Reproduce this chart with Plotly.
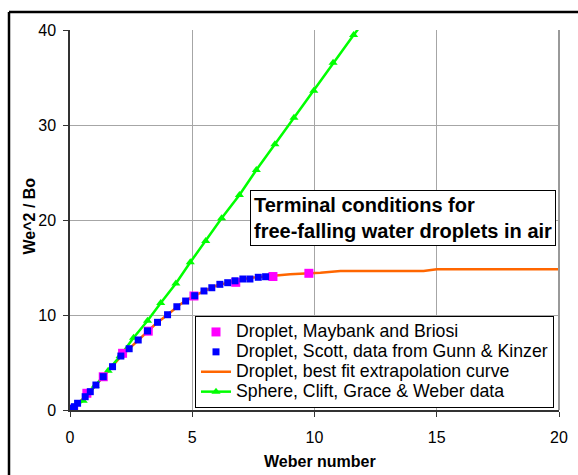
import plotly.graph_objects as go

# ---- data ----
maybank_we = [0.05, 0.15, 0.69, 1.36, 2.15, 3.2, 5.07, 6.78, 8.3, 9.77]
maybank_y = [0.03, 0.10, 1.76, 3.50, 5.97, 8.3, 12.0, 13.44, 14.05, 14.39]

scott_we = [0.02, 0.04, 0.10, 0.18, 0.31, 0.62, 0.83, 1.06, 1.36, 1.74, 2.08, 2.42, 2.79,
            3.17, 3.58, 3.99, 4.37, 4.73, 5.10, 5.48, 5.80, 6.13, 6.45, 6.75, 7.07, 7.36,
            7.70, 8.0]
scott_y = [0.03, 0.07, 0.18, 0.35, 0.71, 1.40, 1.93, 2.63, 3.51, 4.56, 5.68, 6.45, 7.37,
           8.32, 9.23, 10.03, 10.87, 11.47, 12.03, 12.53, 12.87, 13.23, 13.40, 13.60, 13.79,
           13.79, 13.97, 14.03]

fit_we = [0, 0.5, 1, 1.5, 2, 2.5, 3, 3.5, 4, 4.5, 5, 5.5, 6, 6.5, 7, 7.5, 8, 9, 10.24,
          11.06, 14.46, 15.0, 20.0]
fit_y = [0, 1.1, 2.45, 3.9, 5.4, 6.65, 7.9, 9.05, 10.05, 11.1, 11.9, 12.55, 13.1, 13.45,
         13.75, 13.95, 14.05, 14.3, 14.45, 14.63, 14.63, 14.81, 14.81]

sphere_we = [0.02, 0.54, 1.03, 1.56, 2.05, 2.60, 3.17, 3.71, 4.33, 4.92, 5.55, 6.20, 6.93,
             7.62, 8.38, 9.16, 9.97, 10.76, 11.6, 12.4]
sphere_y = [0.02, 0.98, 2.56, 4.14, 5.68, 7.6, 9.4, 11.27, 13.32, 15.55, 17.8, 20.18, 22.63,
            25.26, 27.97, 30.77, 33.6, 36.56, 39.47, 42.2]

x_ticks = [0, 5, 10, 15, 20]
y_ticks = [0, 10, 20, 30, 40]

names = ["Droplet, Maybank and Briosi", "Droplet, Scott, data from Gunn & Kinzer",
         "Droplet, best fit extrapolation curve", "Sphere, Clift, Grace & Weber data"]
x_title = "Weber number"
y_title = "We^2 / Bo"
note_lines = ["Terminal conditions for", "free-falling water droplets in air"]

FONT = "Liberation Sans, Arial, sans-serif"


def lg(s):
    return '<span style="font-size:17.7px">' + s.replace("&", "&amp;") + "</span>"


fig = go.Figure()
fig.add_trace(go.Scatter(x=fit_we, y=fit_y, mode="lines", name=lg(names[2]),
                         line=dict(color="#FF6600", width=2.5), legendrank=3))
fig.add_trace(go.Scatter(x=sphere_we, y=sphere_y, mode="lines+markers", name=lg(names[3]),
                         line=dict(color="#00FF00", width=2.5),
                         marker=dict(symbol="triangle-up", size=8, color="#00FF00"), legendrank=4))
fig.add_trace(go.Scatter(x=maybank_we, y=maybank_y, mode="markers", name=lg(names[0]),
                         marker=dict(symbol="square", size=9, color="#FF00FF"), legendrank=1))
fig.add_trace(go.Scatter(x=scott_we, y=scott_y, mode="markers", name=lg(names[1]),
                         marker=dict(symbol="square", size=7, color="#0000FF"), legendrank=2))

L, R, T, B = 70, 19, 30, 65
W, H = 578, 475
pw, ph = W - L - R, H - T - B


def px(xp):
    return (xp - L) / pw


def py(yp):
    return (H - B - yp) / ph


fig.update_layout(
    width=W, height=H,
    margin=dict(l=L, r=R, t=T, b=B, autoexpand=False),
    paper_bgcolor="white", plot_bgcolor="white",
    font=dict(family=FONT, size=16, color="black"),
    showlegend=True,
    legend=dict(x=px(195), y=py(316), xanchor="left", yanchor="top",
                bordercolor="black", borderwidth=1, bgcolor="white",
                font=dict(size=13), traceorder="normal", tracegroupgap=0),
    xaxis=dict(range=[0, 20], tickvals=x_ticks, showgrid=True, gridcolor="#A6A6A6", gridwidth=1,
               zeroline=False, showline=True, linecolor="#333333", linewidth=1.5,
               ticks="outside", ticklen=5, tickcolor="#333333", ticklabelstandoff=7,
               tickfont=dict(size=16), automargin=False),
    yaxis=dict(range=[0, 40], tickvals=y_ticks, showgrid=True, gridcolor="#A6A6A6", gridwidth=1,
               zeroline=False, showline=True, linecolor="#333333", linewidth=1.5,
               ticks="outside", ticklen=5, tickcolor="#333333", ticklabelstandoff=4,
               tickfont=dict(size=16), automargin=False),
    annotations=[
        dict(text="<b>" + "<br>".join(note_lines) + "</b>",
             xref="paper", yref="paper", x=px(556), y=py(190), xanchor="right", yanchor="top",
             align="left", showarrow=False, font=dict(size=20, color="black"),
             bordercolor="black", borderwidth=1, borderpad=3, bgcolor="white"),
        dict(text="<b>" + x_title + "</b>", xref="paper", yref="paper", x=px(320), y=py(461),
             xanchor="center", yanchor="middle", showarrow=False, font=dict(size=16)),
        dict(text="<b>" + y_title + "</b>", xref="paper", yref="paper", x=px(28.5), y=py(216),
             xanchor="center", yanchor="middle", textangle=-90, showarrow=False,
             font=dict(size=16)),
    ],
    shapes=[
        dict(type="line", xref="paper", yref="paper", x0=px(9), x1=px(9), y0=py(12), y1=py(480),
             line=dict(color="black", width=2.5)),
        dict(type="line", xref="paper", yref="paper", x0=px(9), x1=px(580), y0=py(12), y1=py(12),
             line=dict(color="black", width=2.5)),
        dict(type="line", xref="paper", yref="paper", x0=1, x1=1, y0=0, y1=1,
             line=dict(color="#999999", width=2)),
    ],
)

fig.write_html("out.html")
